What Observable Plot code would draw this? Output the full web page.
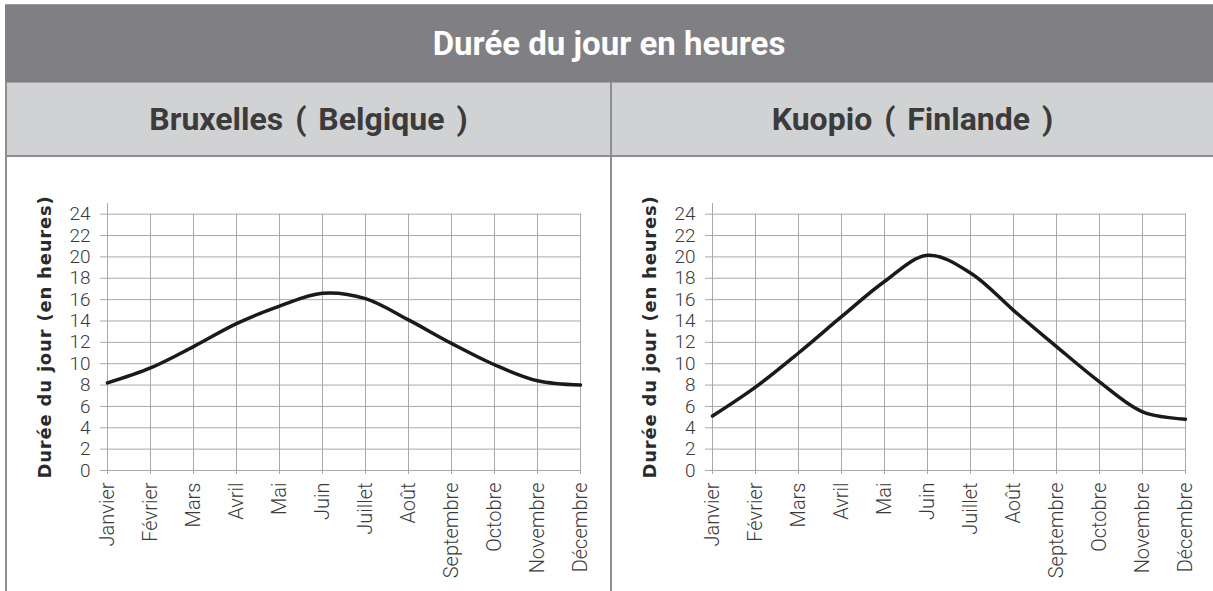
<!DOCTYPE html>
<html>
<head>
<meta charset="utf-8">
<script src="https://cdn.jsdelivr.net/npm/d3@7"></script>
<script src="https://cdn.jsdelivr.net/npm/@observablehq/plot@0.6"></script>
<style>
  html, body { margin: 0; padding: 0; background: #fff; }
  body { width: 1213px; height: 591px; overflow: hidden; position: relative; font-family: Roboto, "DejaVu Sans", sans-serif; }
  .abs { position: absolute; }
  #head { left: 5px; top: 4px; width: 1208px; height: 78px; background: #808084; border-top: 1px solid #9c9ca0; box-sizing: border-box;
          display: flex; align-items: center; justify-content: center; color: #fff; font-weight: 700; font-size: 33px; }
  #sub { left: 5px; top: 82px; width: 1208px; height: 75px; background: #d1d2d4; border-top: 1px solid #a5a5a8; border-bottom: 2px solid #8e8e90; box-sizing: border-box; }
  .cell { top: 83px; height: 72px; display: flex; align-items: center; justify-content: center; color: #3b3b3b; font-weight: 700; font-size: 32px; word-spacing: 4px; }
  #vl { left: 5px; top: 82px; width: 2px; height: 509px; background: #8e8e90; }
  #vm { left: 610px; top: 82px; width: 2px; height: 509px; background: #8e8e90; }
  #c1 { left: 7px; top: 157px; }
  #c2 { left: 612px; top: 157px; }
  .ytitle text { letter-spacing: 0.8px; }
</style>
</head>
<body>
<div id="head" class="abs"></div>
<div id="sub" class="abs"></div>
<div id="cellL" class="abs cell" style="left:7px;width:603px;"></div>
<div id="cellR" class="abs cell" style="left:612px;width:601px;"></div>
<div id="vl" class="abs"></div>
<div id="vm" class="abs"></div>
<div id="c1" class="abs"></div>
<div id="c2" class="abs"></div>
<script>
const titre = "Durée du jour en heures";
const villes = ["Bruxelles ( Belgique )", "Kuopio ( Finlande )"];
const axeY = "Durée du jour (en heures)";
const mois = ["Janvier","Février","Mars","Avril","Mai","Juin","Juillet","Août","Septembre","Octobre","Novembre","Décembre"];
const bruxelles = [8.2, 9.6, 11.6, 13.75, 15.4, 16.6, 16.1, 14.1, 11.9, 9.9, 8.4, 8.0];
const kuopio = [5.1, 7.8, 11.0, 14.4, 17.7, 20.15, 18.5, 15.0, 11.6, 8.3, 5.5, 4.8];
const yTicks = [0, 2, 4, 6, 8, 10, 12, 14, 16, 18, 20, 22, 24];

document.getElementById("head").textContent = titre;
document.getElementById("cellL").textContent = villes[0];
document.getElementById("cellR").textContent = villes[1];

const grid = "#a9a9a9";
function chart(values, width) {
  const data = mois.map((m, i) => ({mois: m, h: values[i]}));
  const svg = Plot.plot({
    width, height: 434,
    marginTop: 46, marginBottom: 121, marginLeft: 98, marginRight: width - 574,
    style: {fontFamily: "Roboto, sans-serif", fontSize: "19px", background: "transparent", color: "#3a3a3a"},
    x: {type: "point", domain: mois, padding: 0},
    y: {domain: [0, 25]},
    marks: [
      Plot.gridY(yTicks, {stroke: grid, strokeOpacity: 1}),
      Plot.ruleX(mois, {y1: 0, y2: 24, stroke: grid}),
      Plot.ruleX([mois[0]], {y1: 0, y2: 25, stroke: grid}),
      Plot.axisY(yTicks, {tickSize: 5, tickPadding: 10, stroke: grid, fill: "#3a3a3a", fontSize: 19, fontWeight: 300, label: null}),
      Plot.axisX(mois, {tickSize: 4, tickPadding: 8, tickRotate: -90, stroke: grid, fill: "#3a3a3a", fontSize: 20, fontWeight: 300, label: null}),
      Plot.line(data, {x: "mois", y: "h", curve: "catmull-rom", stroke: "#1a1a1a", strokeWidth: 3.5}),
      Plot.text([axeY], {text: d => d, frameAnchor: "left", textAnchor: "middle", dx: -60, rotate: -90, fontWeight: "bold", fontSize: 18, fontFamily: "'DejaVu Sans', sans-serif", fill: "#2a2a2a"})
    ]
  });
  // letter-spacing for the y title
  svg.querySelectorAll("text").forEach(t => { if (t.textContent === axeY) t.style.letterSpacing = "0.8px"; });
  return svg;
}
document.getElementById("c1").append(chart(bruxelles, 603));
document.getElementById("c2").append(chart(kuopio, 601));
</script>
</body>
</html>
